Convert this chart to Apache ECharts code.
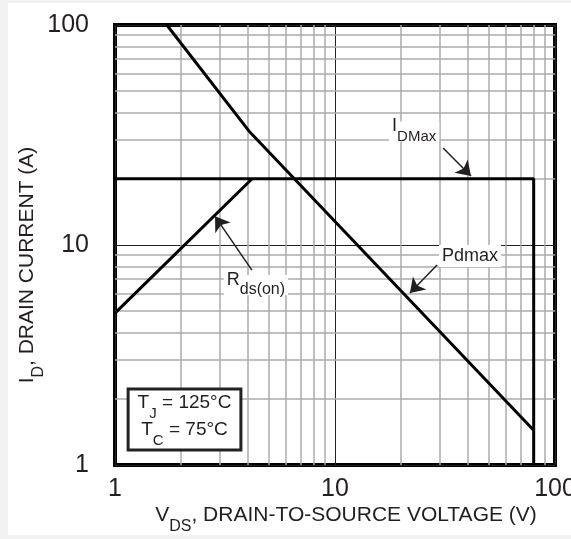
<!DOCTYPE html>
<html>
<head>
<meta charset="utf-8">
<script src="https://cdn.jsdelivr.net/npm/echarts@6/dist/echarts.min.js"></script>
<style>
  html, body { margin: 0; padding: 0; background: #f2f2f2; }
  #chart { position: absolute; left: 8px; top: 3px; width: 563px; height: 532px; background: #fff; }
</style>
</head>
<body>
<div id="chart"></div>
<script>
  // safe operating area, log-log, VDS (V) vs ID (A)
  const minorGrid = [2, 3, 4, 5, 6, 7, 8, 9, 20, 30, 40, 50, 60, 70, 80, 90];

  // Pdmax limit
  const pdmaxVds = [1.72, 4.06, 80];
  const pdmaxId = [100, 33, 1.44];
  // Rds(on) limit
  const rdsVds = [1, 4.2];
  const rdsId = [4.9, 20];
  // IDMax limit + VDS max
  const idmaxVds = [1, 80, 80];
  const idmaxId = [20, 20, 1];

  // annotation arrows [from, to] in data coords
  const arrowIdmax = [[31, 27.6], [41.5, 20.6]];
  const arrowPdmax = [[29.1, 8.11], [21.9, 6.05]];
  const arrowRds = [[4.19, 7.69], [2.85, 13.5]];
  // annotation label anchors
  const labelIdmax = [22.9, 32.8];
  const labelPdmax = [41.1, 8.91];
  const labelRds = [4.37, 6.58];
  const labelBox = [2.07, 1.61];

  const font = 'Liberation Sans, Arial, sans-serif';
  const ink = '#231f20';

  const zip = (xs, ys) => xs.map((x, i) => [x, ys[i]]);

  // subscript styles: main raised by shift/2, sub lowered by shift/2
  const sub = (mainSize, subSize, lh, shift) => ({
    m: { fontSize: mainSize, fontFamily: font, color: ink, lineHeight: lh, padding: [0, 0, shift, 0] },
    s: { fontSize: subSize, fontFamily: font, color: ink, lineHeight: lh, padding: [shift, 0, 0, 0] }
  });

  var myChart = echarts.init(document.getElementById('chart'));

  const lineSeries = (name, data) => ({
    name: name,
    type: 'line',
    data: data,
    z: 3,
    symbol: 'none',
    silent: true,
    lineStyle: { color: '#000', width: 3 }
  });

  const arrow = (a) => [{ coord: a[0] }, { coord: a[1] }];

  const option = {
    animation: false,
    grid: {
      left: 107, top: 22, width: 440, height: 440,
      outerBoundsMode: 'none',
      containLabel: false,
      show: true, borderColor: '#000', borderWidth: 4, backgroundColor: 'transparent'
    },
    xAxis: {
      type: 'log', logBase: 10, min: 1, max: 100,
      axisLine: { show: false },
      axisTick: { show: false },
      axisLabel: { fontSize: 25, fontFamily: font, color: ink, margin: 12 },
      splitLine: { show: true, lineStyle: { color: '#222', width: 1 } },
      name: '{m|V}{s|DS}{m|, DRAIN-TO-SOURCE VOLTAGE (V)}',
      nameLocation: 'middle',
      nameGap: 46,
      nameMoveOverlap: false,
      nameTextStyle: { padding: [0, 0, 0, 22], rich: sub(21, 16, 20, 11) }
    },
    yAxis: {
      type: 'log', logBase: 10, min: 1, max: 100,
      axisLine: { show: false },
      axisTick: { show: false },
      axisLabel: { fontSize: 25, fontFamily: font, color: ink, margin: 26 },
      splitLine: { show: true, lineStyle: { color: '#222', width: 1 } },
      name: '{m|I}{s|D}{m|, DRAIN CURRENT (A)}',
      nameLocation: 'middle',
      nameRotate: 90,
      nameGap: 72,
      nameMoveOverlap: false,
      nameTextStyle: { padding: [0, 40, 0, 0], rich: sub(21, 16, 20, 11) }
    },
    series: [
      {
        // minor log grid
        type: 'line',
        data: [],
        z: 1,
        markLine: {
          silent: true,
          z: 1,
          symbol: 'none',
          label: { show: false },
          lineStyle: { color: '#ababab', width: 1.5, type: 'solid' },
          data: minorGrid.map(v => ({ xAxis: v })).concat(minorGrid.map(v => ({ yAxis: v })))
        }
      },
      lineSeries('Pdmax', zip(pdmaxVds, pdmaxId)),
      lineSeries('Rds(on)', zip(rdsVds, rdsId)),
      lineSeries('IDMax', zip(idmaxVds, idmaxId)),
      {
        // annotations
        type: 'line',
        data: [],
        z: 6,
        markLine: {
          silent: true,
          z: 6,
          symbol: ['none', 'arrow'],
          symbolSize: 14,
          label: { show: false },
          lineStyle: { color: ink, width: 1.5, type: 'solid' },
          data: [arrow(arrowIdmax), arrow(arrowPdmax), arrow(arrowRds)]
        },
        markPoint: {
          silent: true,
          z: 6,
          symbol: 'rect',
          symbolSize: 0,
          itemStyle: { color: 'transparent' },
          data: [
            {
              coord: labelIdmax,
              label: {
                show: true, position: 'inside', backgroundColor: '#fff', padding: [2, 3],
                formatter: '{m|I}{s|DMax}', rich: sub(18, 15, 16, 10)
              }
            },
            {
              coord: labelPdmax,
              label: {
                show: true, position: 'inside', backgroundColor: '#fff', padding: [2, 3],
                formatter: 'Pdmax', fontSize: 18, fontFamily: font, color: ink
              }
            },
            {
              coord: labelRds,
              label: {
                show: true, position: 'inside', backgroundColor: '#fff', padding: [2, 3],
                formatter: '{m|R}{s|ds(on)}', rich: sub(18, 16, 16, 10)
              }
            },
            {
              coord: labelBox,
              label: {
                show: true, position: 'inside', backgroundColor: '#fff',
                borderColor: '#222', borderWidth: 3, padding: [4, 8, 0, 8], align: 'center',
                formatter: '{m|T}{s|J}{m| = 125°C}\n{m|T}{s|C}{m| = 75°C}',
                rich: sub(19, 15, 27, 11)
              }
            }
          ]
        }
      }
    ]
  };

  option && myChart.setOption(option);
</script>
</body>
</html>
